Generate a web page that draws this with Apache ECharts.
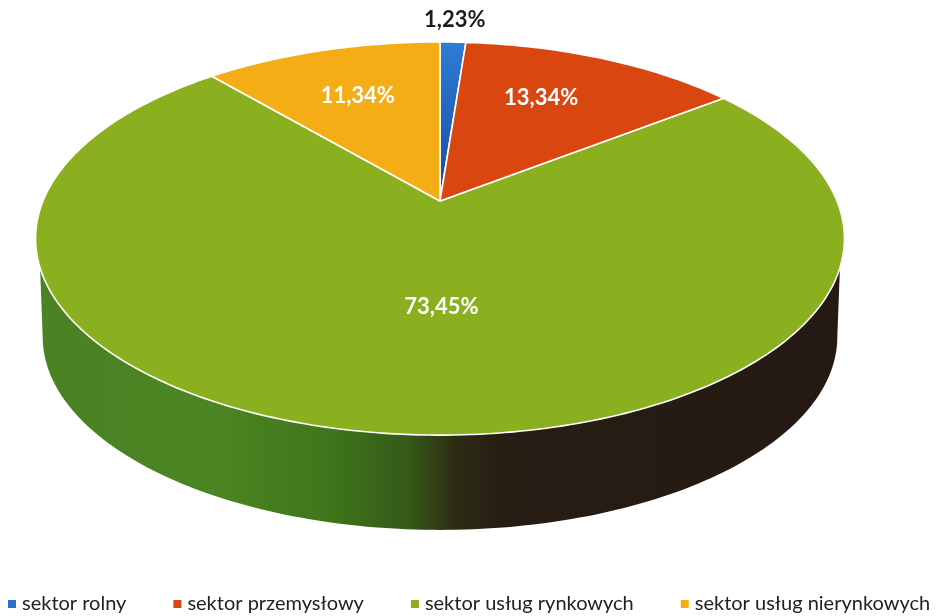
<!DOCTYPE html>
<html><head><meta charset="utf-8">
<style>html,body{margin:0;padding:0;background:#fff}#c{width:947px;height:616px}</style>
<script src="https://cdn.jsdelivr.net/npm/echarts@6/dist/echarts.min.js"></script>
</head><body><div id="c"></div>
<script>
// data
const categories = ['sektor rolny','sektor przemysłowy','sektor usług rynkowych','sektor usług nierynkowych'];
const values = [1.23,13.34,73.45,11.34];
const labels = ['1,23%','13,34%','73,45%','11,34%'];

// style
const colors = ['#2b72c8','#d9460f','#8bb01f','#f4ad14'];
const labelColors = ['#1c1c1c','#ffffff','#ffffff','#ffffff'];
const labelRadius = [1.17,0.67,0.506,0.66];
const labelTurn = [0,-3.5,-6.2,0];
const top3d = {cx:440,cy:201,A:397,B:189.4,k:0.191};
const bottom3d = {cx:440,cy:300,A:390,B:186,k:0.191};
const wallTop = [109.3,250.7], wallBottom = [101,259];

function project(p,deg,r){
  const t=deg*Math.PI/180, u=r*Math.sin(t), v=r*Math.cos(t), w=1+p.k*v;
  return [p.cx+p.A*u/w, p.cy-p.B*v/w];
}
function arc(p,a,b,r){
  const pts=[], n=Math.max(2,Math.ceil(Math.abs(b-a)));
  for(let i=0;i<=n;i++) pts.push(project(p,a+(b-a)*i/n,r===undefined?1:r));
  return pts;
}
const total=values.reduce((s,v)=>s+v,0);
const starts=[]; values.reduce((s,v,i)=>{starts[i]=s;return s+v;},0);

function makeItem(i){
  return function(){
    const a=starts[i]/total*360, b=(starts[i]+values[i])/total*360;
    const children=[];
    const ta=Math.max(a,wallTop[0]), tb=Math.min(b,wallTop[1]);
    if(tb>ta){
      const ba=Math.max(a,wallBottom[0]), bb=Math.min(b,wallBottom[1]);
      children.push({type:'polygon',shape:{points:arc(top3d,ta,tb).concat(arc(bottom3d,bb,ba))},
        style:{stroke:null,fill:new echarts.graphic.LinearGradient(0,0,1,0,[
          {offset:0,color:'#4a8224'},{offset:0.22,color:'#4c8522'},{offset:0.36,color:'#3f761b'},
          {offset:0.46,color:'#355a18'},{offset:0.52,color:'#2c2c14'},{offset:0.58,color:'#271d13'},{offset:1,color:'#241a13'}])}});
    }
    const fill = i===0
      ? new echarts.graphic.LinearGradient(0,0,0,1,[{offset:0,color:'#2f7dd4'},{offset:1,color:'#1549a3'}])
      : colors[i];
    children.push({type:'polygon',shape:{points:[[top3d.cx,top3d.cy]].concat(arc(top3d,a,b))},
      style:{fill:fill,stroke:'#ffffff',lineWidth:1.6,lineJoin:'round'}});
    const lp=project(top3d,(a+b)/2+labelTurn[i],labelRadius[i]);
    children.push({type:'text',x:lp[0],y:lp[1],style:{text:labels[i],fill:labelColors[i],
      font:'bold 22px Lato',align:'center',verticalAlign:'middle'}});
    return {type:'group',children:children};
  };
}

const chart=echarts.init(document.getElementById('c'),null,{renderer:'canvas'});
chart.setOption({
  animation:false,
  backgroundColor:'#ffffff',
  legend:{left:8,top:594,padding:0,itemWidth:8,itemHeight:8,itemGap:47,selectedMode:false,icon:'rect',
    textStyle:{fontFamily:'Lato',fontSize:20,color:'#222222',padding:[0,0,0,1]},
    data:categories},
  series:categories.map((name,i)=>({
    type:'custom',name:name,coordinateSystem:'none',silent:true,z:i===2?1:2,
    itemStyle:{color:colors[i]},data:[values[i]],renderItem:makeItem(i)}))
});
</script></body></html>
